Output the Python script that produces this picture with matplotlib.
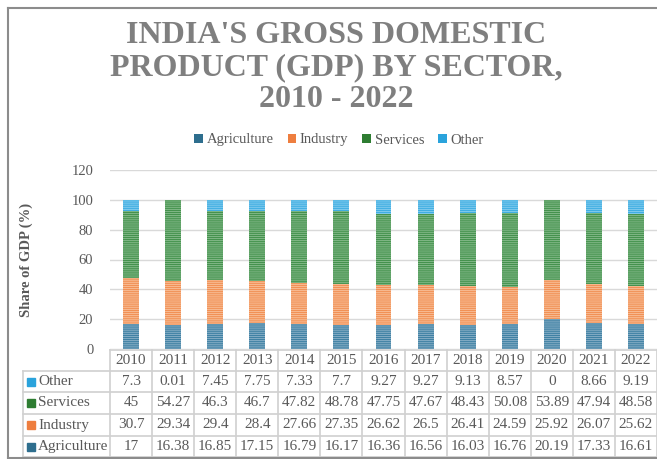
import matplotlib
matplotlib.use("Agg")
import matplotlib.pyplot as plt
from matplotlib.patches import Patch, Rectangle
from matplotlib.lines import Line2D
import matplotlib.transforms as mtransforms

years = ["2010", "2011", "2012", "2013", "2014", "2015", "2016", "2017", "2018", "2019", "2020", "2021", "2022"]
agriculture = [17, 16.38, 16.85, 17.15, 16.79, 16.17, 16.36, 16.56, 16.03, 16.76, 20.19, 17.33, 16.61]
industry = [30.7, 29.34, 29.4, 28.4, 27.66, 27.35, 26.62, 26.5, 26.41, 24.59, 25.92, 26.07, 25.62]
services = [45, 54.27, 46.3, 46.7, 47.82, 48.78, 47.75, 47.67, 48.43, 50.08, 53.89, 47.94, 48.58]
other = [7.3, 0.01, 7.45, 7.75, 7.33, 7.7, 9.27, 9.27, 9.13, 8.57, 0, 8.66, 9.19]
series_names = ["Agriculture", "Industry", "Services", "Other"]
title_text = "INDIA'S GROSS DOMESTIC\nPRODUCT (GDP) BY SECTOR,\n2010 - 2022"
ylabel_text = "Share of GDP (%)"
yticks = [0, 20, 40, 60, 80, 100, 120]

face = {"Agriculture": "#347A9E", "Industry": "#F08A4B", "Services": "#3A8C44", "Other": "#33A9E0"}
stripe = {"Agriculture": "#7FA9C2", "Industry": "#F7B88F", "Services": "#7DB583", "Other": "#7CC8EC"}
solid = {"Agriculture": "#2E6E8E", "Industry": "#EE7E3F", "Services": "#2E7D32", "Other": "#2AA3DC"}

plt.rcParams["font.family"] = ["Liberation Serif", "DejaVu Serif"]
plt.rcParams["hatch.linewidth"] = 0.9
TXT = "#595959"
GRID = "#D9D9D9"

W, H = 657, 459
fig = plt.figure(figsize=(W / 100, H / 100), dpi=100)
ax = fig.add_axes([110 / W, 110 / H, 547 / W, 179 / H])

data = {"Agriculture": agriculture, "Industry": industry, "Services": services, "Other": other}
x = list(range(len(years)))
bottom = [0.0] * len(years)
for name in series_names:
    vals = data[name]
    ax.bar(x, vals, bottom=bottom, width=0.38, color=face[name], edgecolor=stripe[name],
           linewidth=0, hatch="-" * 8, zorder=3)
    bottom = [b + v for b, v in zip(bottom, vals)]

ax.set_xlim(-0.5, len(years) - 0.5)
ax.set_ylim(0, 120)
ax.set_yticks(yticks)
ax.set_yticklabels([str(t) for t in yticks], fontsize=10.5, color=TXT)
ax.tick_params(axis="y", length=0, pad=12)
ax.set_xticks([])
for s in ax.spines.values():
    s.set_visible(False)
ax.yaxis.grid(True, color=GRID, linewidth=1, zorder=0)
ax.set_axisbelow(True)
ax.set_ylabel(ylabel_text, fontsize=10.5, fontweight="bold", color=TXT)
ax.yaxis.set_label_coords((33 - 110) / 547, 0.5)

# data table (x in data units, y in axes units)
trans = mtransforms.blended_transform_factory(ax.transData, ax.transAxes)
def yax(px):
    return (349 - px) / 179.0
rows_px = [350, 371, 392, 414, 436, 457]
x_left = -0.5 - 87 / 42.08
x_right = len(years) - 0.5
LC = "#D0D0D0"
def hline(y, x0, x1):
    ax.add_line(Line2D([x0, x1], [yax(y), yax(y)], transform=trans, color=LC, lw=1.2, clip_on=False))
def vline(xx, y0, y1):
    ax.add_line(Line2D([xx, xx], [yax(y0), yax(y1)], transform=trans, color=LC, lw=1.2, clip_on=False))
hline(rows_px[0], -0.5, x_right)
for y in rows_px[1:]:
    hline(y, x_left, x_right)
for k in range(len(years) + 1):
    vline(-0.5 + k, rows_px[0], rows_px[-1])
vline(x_left, rows_px[1], rows_px[-1])

def fmt(v):
    return "{:g}".format(v)
for i, yr in enumerate(years):
    ax.text(i, yax((rows_px[0] + rows_px[1]) / 2), yr, transform=trans, ha="center", va="center",
            fontsize=11, color=TXT, clip_on=False)
table_rows = ["Other", "Services", "Industry", "Agriculture"]
for r, name in enumerate(table_rows):
    yc = yax((rows_px[r + 1] + rows_px[r + 2]) / 2)
    for i in range(len(years)):
        ax.text(i, yc, fmt(data[name][i]), transform=trans, ha="center", va="center",
                fontsize=11, color=TXT, clip_on=False)
    ax.text(x_left + 15 / 42.08, yc, name, transform=trans, ha="left", va="center",
            fontsize=11, color=TXT, clip_on=False)
    ypx = (rows_px[r + 1] + rows_px[r + 2]) / 2
    fig.patches.append(Rectangle((27 / W, 1 - (ypx + 4) / H), 8 / W, 8 / H,
                                 transform=fig.transFigure, color=solid[name]))

# title
fig.text(336 / W, 1 - 21 / H, title_text, ha="center", va="top", fontsize=23, fontweight="bold",
         color="#7F7F7F", linespacing=1.13)

# legend
handles = [Patch(facecolor=solid[n], edgecolor="none") for n in series_names]
fig.legend(handles, series_names, loc="center", bbox_to_anchor=(339 / W, 1 - 140 / H), ncol=4,
           frameon=False, prop={"family": "Liberation Serif", "size": 10.5}, handlelength=0.6,
           handleheight=0.6, handletextpad=0.25, columnspacing=0.95, labelcolor=TXT)

# outer frame
FC = "#8C8C8C"
fig.add_artist(Line2D([7.5 / W, 7.5 / W], [0, 1 - 8 / H], transform=fig.transFigure, color=FC, lw=1.5))
fig.add_artist(Line2D([7.5 / W, 1], [1 - 8 / H, 1 - 8 / H], transform=fig.transFigure, color=FC, lw=1.5))
fig.add_artist(Line2D([7.5 / W, 1], [1 / H, 1 / H], transform=fig.transFigure, color=FC, lw=1.5))

fig.savefig("out.png", dpi=100, facecolor="white")
